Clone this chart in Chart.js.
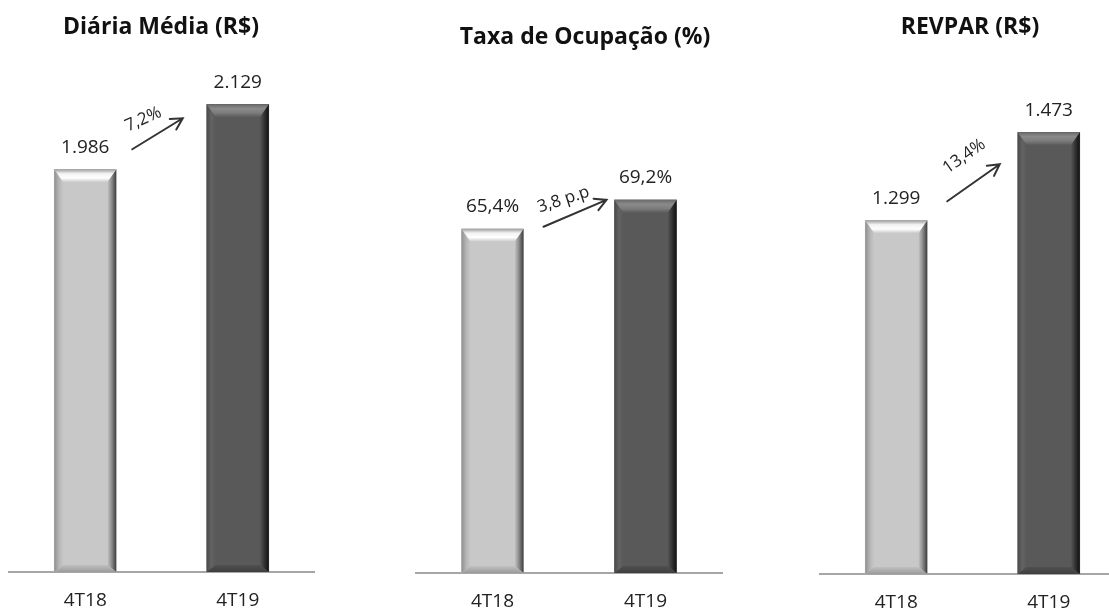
<!DOCTYPE html>
<html>
<head>
<meta charset="utf-8">
<script src="https://cdn.jsdelivr.net/npm/chart.js@4/dist/chart.umd.min.js"></script>
<style>
  html, body { margin: 0; padding: 0; background: #fff; overflow: hidden; width: 1109px; height: 610px; }
  .panel { position: absolute; top: 0; }
</style>
</head>
<body>
<div class="panel" style="left:0px"><canvas id="diaria" width="380" height="610"></canvas></div>
<div class="panel" style="left:380px"><canvas id="ocupacao" width="380" height="610"></canvas></div>
<div class="panel" style="left:760px"><canvas id="revpar" width="380" height="610"></canvas></div>
<script>
// Quarters compared in every panel
const periods = ['4T18', '4T19'];

// Indicator values per quarter
const diariaMedia = [1986, 2129];     // R$
const taxaOcupacao = [65.4, 69.2];    // %
const revparValues = [1299, 1473];    // R$

// Change labels written along the arrows
const variations = ['7,2%', '3,8 p.p', '13,4%'];

// Panel titles
const titles = ['Diária Média (R$)', 'Taxa de Ocupação (%)', 'REVPAR (R$)'];

const FONT = '"Open Sans", "Liberation Sans", sans-serif';

function fmtThousands(v) {
  return Math.round(v).toString().replace(/\B(?=(\d{3})+(?!\d))/g, '.');
}
function fmtPercent(v) {
  return v.toFixed(1).replace('.', ',') + '%';
}

// Shading for the light (previous) and dark (current) bars
const palettes = [
  { face: '#c8c8c8', left: ['#8f8f8f', '#b4b4b4', '#c8c8c8'], right: ['#c8c8c8', '#8a8a8a', '#3c3c3c'],
    top: ['#9c9c9c', '#f2f2f2', '#ffffff', '#c8c8c8'], bottom: ['#c0c0c0', '#9a9a9a'] },
  { face: '#595959', left: ['#4a4a4a', '#636363', '#595959'], right: ['#595959', '#333333', '#101010'],
    top: ['#6a6a6a', '#8a8a8a', '#7c7c7c', '#595959'], bottom: ['#505050', '#3e3e3e'] }
];

function fillPoly(ctx, pts, style) {
  ctx.beginPath();
  ctx.moveTo(pts[0][0], pts[0][1]);
  for (let i = 1; i < pts.length; i++) ctx.lineTo(pts[i][0], pts[i][1]);
  ctx.closePath();
  ctx.fillStyle = style;
  ctx.fill();
}
function grad(ctx, x0, y0, x1, y1, colors) {
  const g = ctx.createLinearGradient(x0, y0, x1, y1);
  colors.forEach((c, i) => g.addColorStop(i / (colors.length - 1), c));
  return g;
}

// Bevelled edges drawn on top of each bar, using the bar element geometry
const bevelPlugin = {
  id: 'bevel',
  afterDatasetsDraw(chart) {
    const ctx = chart.ctx;
    const meta = chart.getDatasetMeta(0);
    meta.data.forEach((el, i) => {
      const p = el.getProps(['x', 'y', 'base', 'width'], true);
      const L = p.x - p.width / 2, R = p.x + p.width / 2, T = p.y;
      const B = Math.min(p.base, chart.chartArea.bottom);
      const pal = palettes[i];
      const bt = 13, bs = 9, bb = 7;
      ctx.save();
      fillPoly(ctx, [[L, T], [L + bs, T + bt], [L + bs, B - bb], [L, B]], grad(ctx, L, 0, L + bs, 0, pal.left));
      fillPoly(ctx, [[R, T], [R - bs, T + bt], [R - bs, B - bb], [R, B]], grad(ctx, R - bs, 0, R, 0, pal.right));
      fillPoly(ctx, [[L, T], [R, T], [R - bs, T + bt], [L + bs, T + bt]], grad(ctx, 0, T, 0, T + bt, pal.top));
      fillPoly(ctx, [[L, B], [R, B], [R - bs, B - bb], [L + bs, B - bb]], grad(ctx, 0, B - bb, 0, B, pal.bottom));
      ctx.restore();
    });
  }
};

// Per-panel decoration: title, value labels and the change arrow
const panelDeco = {
  diaria:   { title: titles[0], titleX: 161, titleY: 27, fmt: fmtThousands, change: variations[0],
              start: [47, -20], end: [-55, 14], text: [11, -30], angle: -24 },
  ocupacao: { title: titles[1], titleX: 205, titleY: 37, fmt: fmtPercent, change: variations[1],
              start: [51, -2], end: [-39, 0], text: [20, -27], angle: -18 },
  revpar:   { title: titles[2], titleX: 210, titleY: 27, fmt: fmtThousands, change: variations[2],
              start: [51, -19], end: [-49, 32], text: [17, -45], angle: -35 }
};

const decoPlugin = {
  id: 'panelDeco',
  afterDraw(chart) {
    const d = panelDeco[chart.canvas.id];
    const ctx = chart.ctx;
    const meta = chart.getDatasetMeta(0);
    const values = chart.data.datasets[0].data;
    const [b1, b2] = meta.data;
    ctx.save();
    ctx.textAlign = 'center';
    ctx.textBaseline = 'middle';

    ctx.font = 'bold 23px ' + FONT;
    ctx.fillStyle = '#111';
    ctx.fillText(d.title, d.titleX, d.titleY);

    ctx.font = '19px ' + FONT;
    ctx.fillStyle = '#222';
    meta.data.forEach((el, i) => ctx.fillText(d.fmt(values[i]), el.x, el.y - 22));

    const sx = b1.x + d.start[0], sy = b1.y + d.start[1];
    const ex = b2.x + d.end[0], ey = b2.y + d.end[1];
    ctx.strokeStyle = '#333';
    ctx.lineWidth = 2;
    ctx.lineCap = 'round';
    ctx.beginPath();
    ctx.moveTo(sx, sy);
    ctx.lineTo(ex, ey);
    const a = Math.atan2(ey - sy, ex - sx), h = 13;
    ctx.moveTo(ex - h * Math.cos(a - 0.5), ey - h * Math.sin(a - 0.5));
    ctx.lineTo(ex, ey);
    ctx.lineTo(ex - h * Math.cos(a + 0.5), ey - h * Math.sin(a + 0.5));
    ctx.stroke();

    ctx.translate(sx + d.text[0], sy + d.text[1]);
    ctx.rotate(d.angle * Math.PI / 180);
    ctx.font = '17px ' + FONT;
    ctx.fillStyle = '#222';
    ctx.fillText(d.change, 0, 0);
    ctx.restore();
  }
};

function makeChart(id, values, cfg) {
  return new Chart(document.getElementById(id), {
    type: 'bar',
    data: {
      labels: periods,
      datasets: [{
        data: values,
        base: cfg.min,
        backgroundColor: [palettes[0].face, palettes[1].face],
        borderWidth: 0,
        barThickness: 62
      }]
    },
    options: {
      responsive: false,
      animation: false,
      layout: { padding: { left: cfg.padL, right: cfg.padR, top: cfg.padT, bottom: 0 } },
      plugins: { legend: { display: false }, tooltip: { enabled: false }, title: { display: false } },
      scales: {
        x: {
          grid: { display: false, drawTicks: false },
          border: { display: true, color: '#a6a6a6', width: 2 },
          ticks: { color: '#222', font: { family: FONT, size: 19 }, padding: 17 },
          afterFit(scale) { scale.height = cfg.axisH; }
        },
        y: { display: false, min: cfg.min, max: cfg.max }
      }
    },
    plugins: [bevelPlugin, decoPlugin]
  });
}

makeChart('diaria', diariaMedia, { padL: 9, padR: 66, padT: 72, axisH: 38, min: 1100, max: 2200 });
makeChart('ocupacao', taxaOcupacao, { padL: 36, padR: 38, padT: 118, axisH: 37, min: 20, max: 80 });
makeChart('revpar', revparValues, { padL: 60, padR: 15, padT: 68, axisH: 36, min: 600, max: 1600 });
</script>
</body>
</html>
